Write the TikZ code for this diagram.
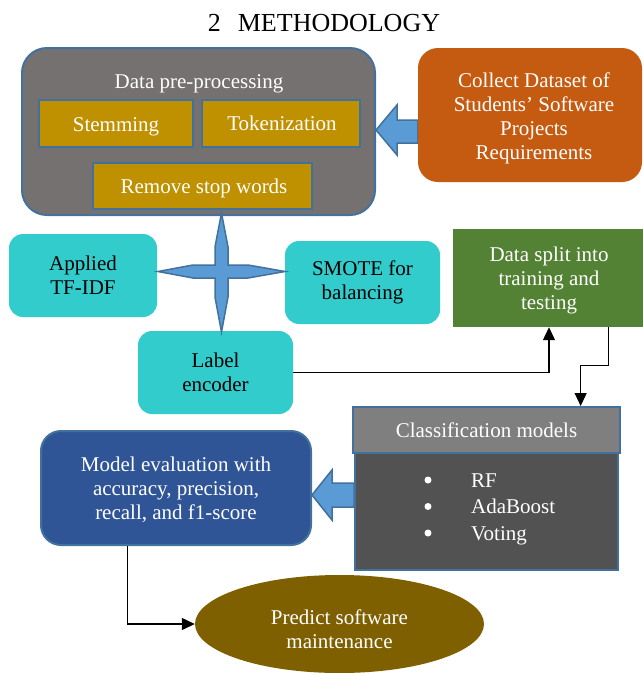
\documentclass[tikz,border=0pt]{standalone}
\usepackage{fontspec}
\setmainfont{Liberation Serif}
\usetikzlibrary{shapes.geometric,arrows.meta,calc,backgrounds}
\definecolor{bordblue}{HTML}{41719C}
\definecolor{arrowblue}{HTML}{5B9BD5}
\definecolor{pregray}{HTML}{767171}
\definecolor{gold}{HTML}{BF9000}
\definecolor{orangebox}{HTML}{C55A11}
\definecolor{teal}{HTML}{33CCCC}
\definecolor{greenbox}{HTML}{548235}
\definecolor{headgray}{HTML}{7F7F7F}
\definecolor{bodygray}{HTML}{525252}
\definecolor{darkblue}{HTML}{2F5597}
\definecolor{olivebrown}{HTML}{7F6000}
\begin{document}
\begin{tikzpicture}[x=1pt,y=-1pt,
  font=\fontsize{21}{24}\selectfont,
  box/.style={inner sep=0pt, align=center, text=white},
  bordered/.style={draw=bordblue, line width=2pt},
  goldbox/.style={box, bordered, fill=gold, minimum width=154pt, minimum height=47pt},
  tealbox/.style={box, text=black, fill=teal, rounded corners=14pt, minimum width=155pt, minimum height=83pt},
  blockarrow/.style={fill=arrowblue, draw=bordblue, line width=1.5pt, line join=miter},
  flow/.style={draw=black, line width=1.2pt, -{Triangle[length=13pt,width=12pt]}},
  txt/.style={inner sep=0pt, text=white},
  dot/.style={circle, fill=white, inner sep=0pt, minimum size=7pt}]
\useasboundingbox (0,0) rectangle (643,673);

% title
\node[inner sep=0pt, anchor=base, font=\fontsize{26}{29}\selectfont] (title) at (324,31) {2\hspace{17pt}METHODOLOGY};

% data pre-processing group
\node[box, bordered, fill=pregray, rounded corners=25pt, minimum width=353pt, minimum height=167pt] (Pre) at (198.5,131.5) {};
\node[txt, anchor=base] (PreT) at (199,88) {Data pre-processing};
\node[goldbox] (Stem) at (116,123.5) {};
\node[txt, anchor=base] (StemT) at (116,131.5) {Stemming};
\node[goldbox, minimum width=158pt] (Tok) at (281,123.5) {};
\node[txt, anchor=base] (TokT) at (282,130) {Tokenization};
\node[goldbox, minimum width=219pt, minimum height=46pt] (Stop) at (202.5,186) {};
\node[txt, anchor=base] (StopT) at (204,193) {Remove stop words};

% collect dataset
\node[box, fill=orangebox, rounded corners=20pt, minimum width=224pt, minimum height=134pt] (Collect) at (530,115) {};
\node[txt, align=center] (CollectT) at (534,118) {Collect Dataset of\\Students’ Software\\Projects\\Requirements};

% teal boxes
\node[tealbox, minimum width=148pt] (Tfidf) at (83,275.5) {Applied\\TF-IDF};
\node[tealbox] (Smote) at (362.5,282.5) {SMOTE for\\balancing};
\node[tealbox] (Label) at (215.5,372.5) {Label\\encoder};

% data split
\node[box, fill=greenbox, minimum width=192pt, minimum height=98pt] (Split) at (549,278) {};
\node[txt, align=center] (SplitT) at (549,280.5) {Data split into\\training and\\testing};

% classification models
\node[box, bordered, fill=bodygray, minimum width=263pt, minimum height=117pt] (Body) at (486.5,511.5) {};
\node[box, bordered, fill=headgray, minimum width=267pt, minimum height=46pt] (Head) at (486.5,430) {};
\node[txt, anchor=base] (HeadT) at (486.5,437) {Classification models};
\node[dot] (b1) at (428,480) {};
\node[dot] (b2) at (428,506.5) {};
\node[dot] (b3) at (428,533) {};
\node[txt, anchor=base west] (i1) at (471,487) {RF};
\node[txt, anchor=base west] (i2) at (471,513.5) {AdaBoost};
\node[txt, anchor=base west] (i3) at (471,540) {Voting};

% model evaluation
\node[box, bordered, fill=darkblue, rounded corners=20pt, minimum width=270pt, minimum height=114pt] (Eval) at (176,488) {};
\node[txt, align=center] (EvalT) at (176,490) {Model evaluation with\\accuracy, precision,\\recall, and f1-score};

% predict
\node[ellipse, fill=olivebrown, inner sep=0pt, minimum width=289pt, minimum height=98pt] (Pred) at (339.5,624) {};
\node[txt, align=center] (PredT) at (339.5,629.5) {Predict software\\maintenance};

% block arrows (behind boxes)
\begin{scope}[on background layer]
\fill[white] (0,0) rectangle (643,673);
\draw[blockarrow] (Collect.west |- 0,120) -- (397,120) -- (397,105) -- (Pre.east |- 0,130) -- (397,155) -- (397,143) -- (Collect.west |- 0,143) -- cycle;
\draw[blockarrow] (Body.west |- 0,483) -- (332,483) -- (332,470) -- (Eval.east |- 0,495) -- (332,520) -- (332,507) -- (Body.west |- 0,507) -- cycle;
\end{scope}

% four-pointed cross
\draw[blockarrow] (221.5,213) -- (228,247) -- (228,265) -- (248,265) -- (285,271.5) -- (248,278) -- (228,278) -- (228,297) -- (221.5,332) -- (215,297) -- (215,278) -- (193,278) -- (158,271.5) -- (193,265) -- (215,265) -- (215,247) -- cycle;

% connectors
\draw[flow] (Label.east) -| (Split.south);
\coordinate (sOut) at ($(Split.south west)!0.81!(Split.south east)$);
\coordinate (cIn) at ($(Head.north west)!0.85!(Head.north east)$);
\draw[flow] (sOut) -- ++(0,38) -| (cIn);
\coordinate (eOut) at ($(Eval.south west)!0.322!(Eval.south east)$);
\draw[flow] (eOut) |- (Pred.west);
\end{tikzpicture}
\end{document}
